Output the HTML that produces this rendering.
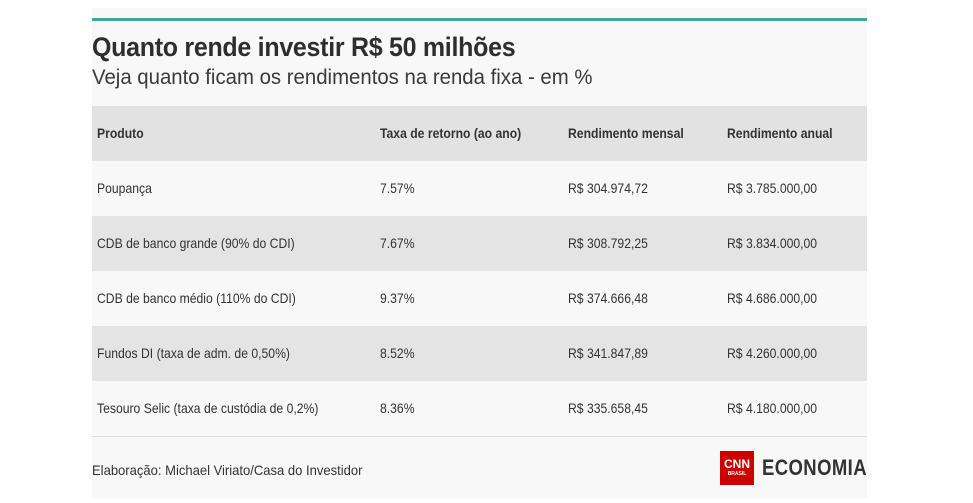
<!DOCTYPE html>
<html><head><meta charset="utf-8"><style>
body{margin:0;width:973px;height:503px;background:#fff;font-family:"Liberation Sans Narrow","Liberation Sans",sans-serif;color:#333;overflow:hidden;position:relative}
.wrap{position:absolute;left:92px;top:8px;width:775px;height:490px;background:#f8f8f8}
.bar{position:absolute;left:0;top:10px;width:775px;height:3px;background:#3aa89a}
h1{position:absolute;left:0;top:24px;margin:0;font-size:27px;font-weight:bold;color:#2e2e2e;letter-spacing:-0.3px;white-space:nowrap;transform:scaleX(0.925);transform-origin:0 0}
.sub{position:absolute;left:0;top:58px;font-size:21px;color:#3a3a3a;white-space:nowrap;transform:scaleX(0.97);transform-origin:0 0}
.row{position:absolute;left:0;width:775px;height:55px;font-size:14px;color:#333}
.row span{position:absolute;top:19px;white-space:nowrap;transform:scaleX(0.87);transform-origin:0 0}
.hd{font-weight:bold;background:#e2e2e2}
.g{background:#e4e4e4}
.c1{left:5px}.c2{left:288px}.c3{left:476px}.c4{left:635px}
.line{position:absolute;left:0;top:428px;width:775px;height:1px;background:#ddd}
.foot{position:absolute;left:0;top:454px;font-size:14px;color:#333;white-space:nowrap;transform:scaleX(0.93);transform-origin:0 0}
.cnn{position:absolute;left:628px;top:443px;width:34px;height:34px;background:#cc0000;color:#fff;font-size:12px;font-weight:bold;text-align:center;line-height:26px}
.cnn small{position:absolute;left:0;right:0;top:19px;font-size:5px;line-height:8px}
.eco{position:absolute;left:670px;top:447px;font-size:22px;font-weight:bold;color:#333;letter-spacing:0.5px;white-space:nowrap;transform:scaleX(0.84);transform-origin:0 0}
</style></head><body>
<div class="wrap">
<div class="bar"></div>
<h1>Quanto rende investir R$ 50 milhões</h1>
<div class="sub">Veja quanto ficam os rendimentos na renda fixa - em %</div>
<div class="row hd" style="top:98px"><span class="c1">Produto</span><span class="c2">Taxa de retorno (ao ano)</span><span class="c3">Rendimento mensal</span><span class="c4">Rendimento anual</span></div>
<div class="row" style="top:153px"><span class="c1">Poupança</span><span class="c2">7.57%</span><span class="c3">R$ 304.974,72</span><span class="c4">R$ 3.785.000,00</span></div>
<div class="row g" style="top:208px"><span class="c1">CDB de banco grande (90% do CDI)</span><span class="c2">7.67%</span><span class="c3">R$ 308.792,25</span><span class="c4">R$ 3.834.000,00</span></div>
<div class="row" style="top:263px"><span class="c1">CDB de banco médio (110% do CDI)</span><span class="c2">9.37%</span><span class="c3">R$ 374.666,48</span><span class="c4">R$ 4.686.000,00</span></div>
<div class="row g" style="top:318px"><span class="c1">Fundos DI (taxa de adm. de 0,50%)</span><span class="c2">8.52%</span><span class="c3">R$ 341.847,89</span><span class="c4">R$ 4.260.000,00</span></div>
<div class="row" style="top:373px"><span class="c1">Tesouro Selic (taxa de custódia de 0,2%)</span><span class="c2">8.36%</span><span class="c3">R$ 335.658,45</span><span class="c4">R$ 4.180.000,00</span></div>
<div class="line"></div>
<div class="foot">Elaboração: Michael Viriato/Casa do Investidor</div>
<div class="cnn">CNN<small>BRASIL</small></div>
<div class="eco">ECONOMIA</div>
</div>
</body></html>
